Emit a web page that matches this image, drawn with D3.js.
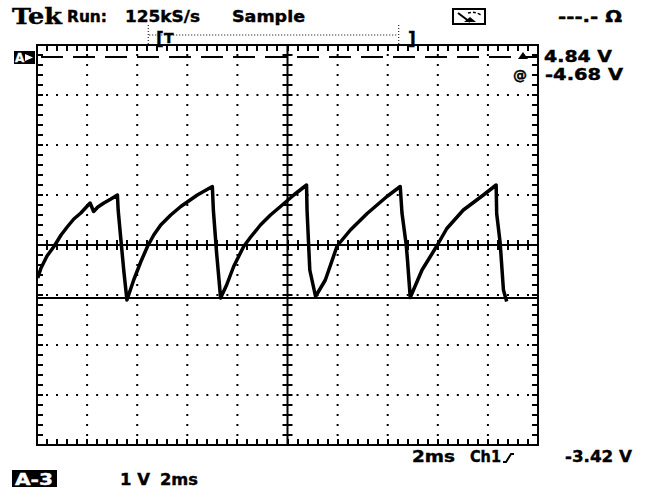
<!DOCTYPE html>
<html>
<head>
<meta charset="utf-8">
<script src="https://cdn.jsdelivr.net/npm/d3@7"></script>
<style>
  body { margin: 0; background: #fff; }
  svg { display: block; }
  text { font-family: "DejaVu Sans", sans-serif; font-weight: bold; fill: #000; stroke: #000; stroke-width: 0.4; }
</style>
</head>
<body>
<div id="chart-area"></div>
<script>
// trace: time in ms, level in volts (0 = centre line)
const traceTime = [0.03, 0.16, 0.40, 0.69, 0.96, 1.22, 1.47, 1.75, 2.12, 2.26, 2.43, 2.67, 2.95, 3.21,
  3.24, 3.35, 3.47, 3.59, 3.86, 4.14, 4.41, 4.66, 4.94, 5.34, 5.74, 6.40, 7.00,
  7.04, 7.17, 7.33, 7.57, 7.85, 8.25, 8.53, 8.92, 9.32, 9.72, 10.25, 10.76,
  10.78, 10.89, 11.12, 11.51, 11.98, 12.51, 13.18, 13.97, 14.50,
  14.57, 14.74, 14.79, 14.90, 15.37, 15.96, 16.36, 17.02, 17.82, 18.33,
  18.35, 18.49, 18.62, 18.75];
const traceVolts = [-0.66, -0.46, -0.22, -0.02, 0.20, 0.37, 0.52, 0.64, 0.84, 0.67, 0.76, 0.84, 0.92, 1.00,
  0.70, 0.10, -0.54, -1.10, -0.70, -0.34, -0.03, 0.20, 0.40, 0.60, 0.77, 1.00, 1.17,
  0.70, -0.16, -1.06, -0.80, -0.43, -0.03, 0.16, 0.40, 0.60, 0.77, 1.00, 1.20,
  0.70, -0.50, -1.03, -0.70, -0.02, 0.30, 0.63, 0.97, 1.17,
  0.64, 0.00, -0.30, -1.05, -0.50, -0.02, 0.33, 0.70, 1.00, 1.20,
  0.63, 0.04, -0.90, -1.13];

const refLevel = -1.06;      // solid reference line
const triggerLevel = 3.76;   // dashed level line
const triggerWindow = [4.4, 14.4];  // ms, the [T ... ] bracket above the screen

const headerLabels = ['Run:', '125kS/s', 'Sample'];
const readouts = ['4.84 V', '-4.68 V'];
const footerLabels = ['2ms', 'Ch1', '-3.42 V'];
const statusLabels = ['A-3', '1 V', '2ms'];

const svgW = 650, svgH = 488;
const svg = d3.select('#chart-area').append('svg')
  .attr('width', svgW)
  .attr('height', svgH);

const x = d3.scaleLinear().domain([0, 20]).range([37, 538]);
const y = d3.scaleLinear().domain([-4, 4]).range([445, 45]);

const majorX = d3.range(0, 20.001, 2);
const majorY = d3.range(-4, 4.001, 1);
const minorX = d3.range(0.4, 19.9, 0.4);
const minorY = d3.range(-3.8, 3.9, 0.2);

const grid = svg.append('g');

function block(px, py, w, h) {
  grid.append('rect').attr('x', px).attr('y', py).attr('width', w).attr('height', h).attr('fill', '#000');
}

// dotted graticule
majorY.slice(1, -1).forEach(v => {
  if (v === 0) return;
  minorX.forEach(t => block(x(t) - 1, y(v) - 1, 2, 2));
});
majorX.slice(1, -1).forEach(t => {
  if (t === 10) return;
  minorY.forEach(v => block(x(t) - 1, y(v) - 1, 2, 2));
});

// ticks on the centre cross and on the frame
minorX.forEach(t => {
  const px = Math.round(x(t)) - 1;
  block(px, y(0) - 5, 2, 10);
  block(px, y(4), 2, 6);
  block(px, y(-4) - 6, 2, 6);
});
minorY.forEach(v => {
  const py = Math.round(y(v)) - 1;
  block(x(10) - 5, py, 10, 2);
  block(x(0), py, 6, 2);
  block(x(20) - 6, py, 6, 2);
});

grid.append('line').attr('x1', x(0)).attr('x2', x(20)).attr('y1', y(0)).attr('y2', y(0))
  .attr('stroke', '#000').attr('stroke-width', 2);
grid.append('line').attr('x1', x(10)).attr('x2', x(10)).attr('y1', y(4)).attr('y2', y(-4))
  .attr('stroke', '#000').attr('stroke-width', 2);

grid.append('rect')
  .attr('x', x(0)).attr('y', y(4))
  .attr('width', x(20) - x(0)).attr('height', y(-4) - y(4))
  .attr('fill', 'none').attr('stroke', '#000').attr('stroke-width', 2);

// level lines
svg.append('line')
  .attr('x1', x(0)).attr('x2', x(20)).attr('y1', y(triggerLevel)).attr('y2', y(triggerLevel))
  .attr('stroke', '#000').attr('stroke-width', 2).attr('stroke-dasharray', '22 10')
  .attr('stroke-dashoffset', -4);
svg.append('line')
  .attr('x1', x(0)).attr('x2', x(20)).attr('y1', y(refLevel)).attr('y2', y(refLevel))
  .attr('stroke', '#000').attr('stroke-width', 2);

// trace
const traceData = traceTime.map((t, i) => ({t: t, v: traceVolts[i]}));
svg.append('path')
  .datum(traceData)
  .attr('d', d3.line().x(d => x(d.t)).y(d => y(d.v)))
  .attr('fill', 'none')
  .attr('stroke', '#000')
  .attr('stroke-width', 3.5)
  .attr('stroke-linejoin', 'round');

// trigger window bracket
const tw = svg.append('g');
tw.append('line').attr('x1', x(triggerWindow[0]) + 1).attr('x2', x(triggerWindow[0]) + 1).attr('y1', 25).attr('y2', 45)
  .attr('stroke', '#000').attr('stroke-dasharray', '1 2');
tw.append('line').attr('x1', x(triggerWindow[1]) + 1).attr('x2', x(triggerWindow[1]) + 1).attr('y1', 25).attr('y2', 45)
  .attr('stroke', '#000').attr('stroke-dasharray', '1 2');
tw.append('line').attr('x1', x(triggerWindow[0]) + 2).attr('x2', x(triggerWindow[1])).attr('y1', 35).attr('y2', 35)
  .attr('stroke', '#000').attr('stroke-dasharray', '1 2');
tw.append('text').attr('x', 156).attr('y', 45).attr('font-size', 17).text('[');
tw.append('text').attr('x', 164).attr('y', 43).attr('font-size', 14).text('T');
tw.append('text').attr('x', 408).attr('y', 45).attr('font-size', 17).text(']');

// header
svg.append('text').attr('x', 12).attr('y', 24)
  .style('font-family', '"DejaVu Serif", serif').attr('font-size', 22)
  .attr('textLength', 50).attr('lengthAdjust', 'spacingAndGlyphs').text('Tek');
const headerX = [67, 125, 232];
const headerW = [40, 75, 73];
headerLabels.forEach((s, i) => {
  svg.append('text').attr('x', headerX[i]).attr('y', 22).attr('font-size', 16)
    .attr('textLength', headerW[i]).attr('lengthAdjust', 'spacingAndGlyphs').text(s);
});

// meter icon
const icon = svg.append('g');
icon.append('rect').attr('x', 453).attr('y', 9).attr('width', 32).attr('height', 15)
  .attr('fill', 'none').attr('stroke', '#000').attr('stroke-width', 2);
icon.append('line').attr('x1', 458).attr('y1', 13).attr('x2', 470).attr('y2', 22)
  .attr('stroke', '#000').attr('stroke-width', 2);
icon.append('path').attr('d', 'M464,22 L470,17 L476,22 Z');
icon.append('path').attr('d', 'M468,13 Q474,11 481,15').attr('fill', 'none')
  .attr('stroke', '#000').attr('stroke-width', 1.5).attr('stroke-dasharray', '3 2');
svg.append('text').attr('x', 558).attr('y', 22).attr('font-size', 16)
  .attr('textLength', 64).attr('lengthAdjust', 'spacingAndGlyphs').text('---.- \u03A9');

// channel marker
svg.append('rect').attr('x', 14).attr('y', 51).attr('width', 21).attr('height', 13);
svg.append('text').attr('x', 15).attr('y', 62).attr('font-size', 12).style('fill', '#fff').style('stroke', '#fff').style('stroke-width', 0.3).text('A');
svg.append('path').attr('d', 'M25,54 L33,57.5 L25,61 Z').attr('fill', '#fff');

// right readouts
svg.append('path').attr('d', `M${x(20) - 20},${y(triggerLevel) + 2} L${x(20) - 15},${y(triggerLevel) - 5} L${x(20) - 10},${y(triggerLevel) + 2} Z`);
svg.append('text').attr('x', 513).attr('y', 80).attr('font-size', 14).text('@');
svg.append('text').attr('x', 544).attr('y', 62).attr('font-size', 15)
  .attr('textLength', 68).attr('lengthAdjust', 'spacingAndGlyphs').text(readouts[0]);
svg.append('text').attr('x', 545).attr('y', 80).attr('font-size', 15)
  .attr('textLength', 78).attr('lengthAdjust', 'spacingAndGlyphs').text(readouts[1]);

// footer line
const footX = [412, 470, 565];
const footW = [43, 31, 67];
footerLabels.forEach((s, i) => {
  svg.append('text').attr('x', footX[i]).attr('y', 462).attr('font-size', 16)
    .attr('textLength', footW[i]).attr('lengthAdjust', 'spacingAndGlyphs').text(s);
});
svg.append('path').attr('d', 'M503,462 L506,462 L511,454 L514,454')
  .attr('fill', 'none').attr('stroke', '#000').attr('stroke-width', 2);

// status line
svg.append('rect').attr('x', 12).attr('y', 470).attr('width', 45).attr('height', 17);
svg.append('text').attr('x', 15).attr('y', 485).attr('font-size', 16).style('fill', '#fff').style('stroke', '#fff')
  .attr('textLength', 38).attr('lengthAdjust', 'spacingAndGlyphs').text(statusLabels[0]);
svg.append('text').attr('x', 120).attr('y', 485).attr('font-size', 16)
  .attr('textLength', 30).attr('lengthAdjust', 'spacingAndGlyphs').text(statusLabels[1]);
svg.append('text').attr('x', 160).attr('y', 485).attr('font-size', 16)
  .attr('textLength', 38).attr('lengthAdjust', 'spacingAndGlyphs').text(statusLabels[2]);
</script>
</body>
</html>
